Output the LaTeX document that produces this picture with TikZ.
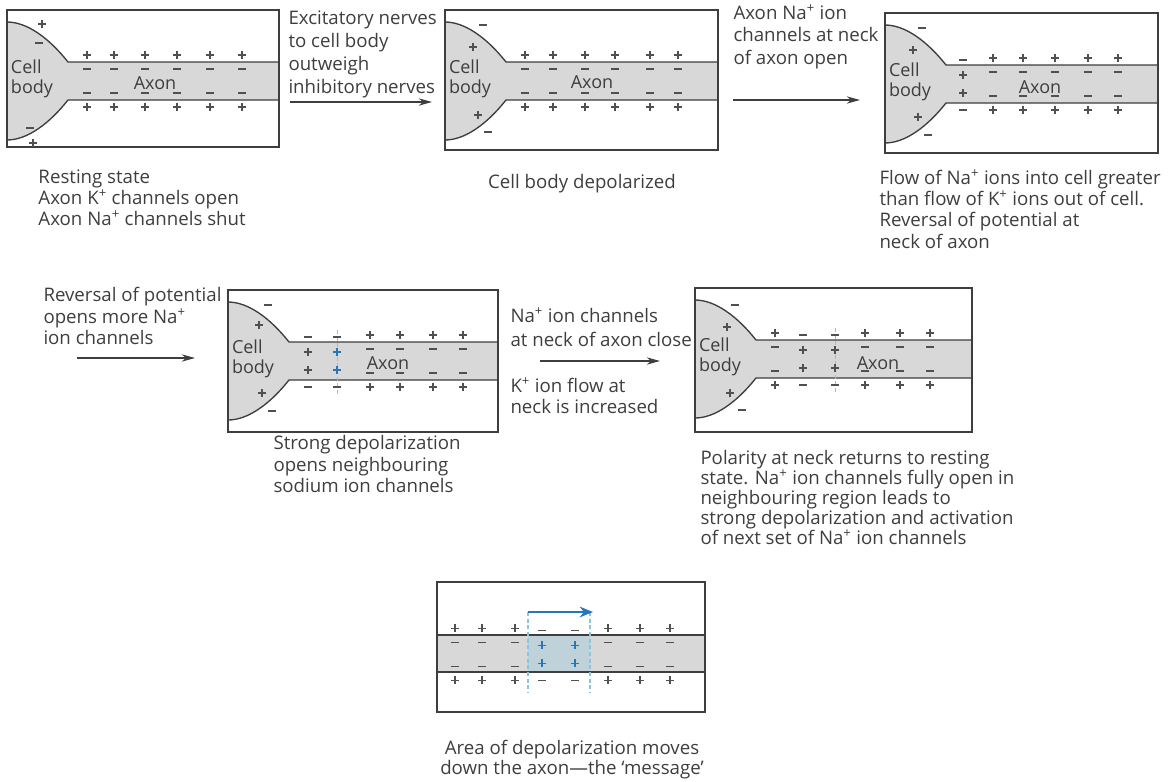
\documentclass[tikz,border=0pt]{standalone}
\usepackage{fontspec}
\setmainfont{Open Sans}
\usepackage{tikz}
\usetikzlibrary{arrows.meta}
\tikzset{every picture/.style={line width=0.75pt}}

\definecolor{ink}{RGB}{62,62,62}
\definecolor{chargeink}{RGB}{80,80,80}
\definecolor{axongrey}{RGB}{216,216,216}
\definecolor{signal}{RGB}{38,118,186}
\definecolor{signallight}{RGB}{135,198,222}

\tikzset{
  txt/.style={anchor=north west, align=left, inner sep=0pt, text=ink, font=\fontsize{14}{16}\selectfont},
  lbl/.style={align=left, inner sep=0pt, text=ink, font=\fontsize{13.5}{15}\selectfont},
  charge/.style={draw=chargeink, line width=0.9pt},
  membrane/.style={draw=ink, line width=1pt},
  frame/.style={draw=ink, line width=1.1pt},
  steparrow/.style={draw=ink, line width=0.9pt, -{Stealth[length=10pt,width=5.5pt]}},
}

% charge signs
\newcommand{\chplus}[3][chargeink]{\draw[charge, draw=#1, shift={(#2,#3)}] (-4,0) -- (4,0) (0,-4) -- (0,4);}
\newcommand{\chminus}[2]{\draw[charge, shift={(#1,#2)}] (-4,0) -- (4,0);}
% resting membrane: + outside, - inside
\newcommand{\restcol}[1]{\chplus{#1}{45}\chminus{#1}{59}\chminus{#1}{83}\chplus{#1}{97}}
% reversed membrane: - outside, + inside
\newcommand{\flipcol}[2][chargeink]{\chminus{#2}{47}\chplus[#1]{#2}{62}\chplus[#1]{#2}{80}\chminus{#2}{97}}
% frame with cell body and axon
\newcommand{\cellpanel}[2]{%
  \fill[axongrey] (0,12) .. controls (20,12) and (42,28) .. (61,52) -- (#1,52) -- (#1,90) -- (61,90) .. controls (42,114) and (20,130) .. (0,130) -- cycle;
  \draw[membrane] (0,12) .. controls (20,12) and (42,28) .. (61,52) -- (#1,52);
  \draw[membrane] (0,130) .. controls (20,130) and (42,114) .. (61,90) -- (#1,90);
  \draw[frame] (0,0) rectangle (#1,#2);}

\begin{document}
\begin{tikzpicture}[x=0.75pt,y=0.75pt,yscale=-1,xscale=1]
\useasboundingbox (0,0) rectangle (1175,782);

%Panel: resting state
\begin{scope}[shift={(7,10)}]
  \cellpanel{272}{137}
  \chplus{35}{14} \chminus{32}{33} \chminus{23}{118} \chplus{26}{133}
  \foreach \cx in {80,107,138,170,203,235} {\restcol{\cx}}
  \node[lbl] (bodyA) at (25,69) {Cell\\body};
  \node[lbl] (axonA) at (148,73) {Axon};
\end{scope}

%Panel: cell body depolarized
\begin{scope}[shift={(445,10)}]
  \cellpanel{273}{140}
  \chminus{38}{15} \chplus{28}{37} \chplus{33}{105} \chminus{43}{122}
  \foreach \cx in {80,108,140,170,205,233} {\restcol{\cx}}
  \node[lbl] (bodyB) at (25,69) {Cell\\body};
  \node[lbl] (axonB) at (147,72) {Axon};
\end{scope}

%Panel: reversal at neck
\begin{scope}[shift={(885,13)}]
  \cellpanel{273}{140}
  \chminus{37}{15} \chplus{28}{37} \chplus{33}{104} \chminus{43}{122}
  \flipcol{78}
  \foreach \cx in {108,138,170,203,233} {\restcol{\cx}}
  \node[lbl] (bodyC) at (25,69) {Cell\\body};
  \node[lbl] (axonC) at (155,74) {Axon};
\end{scope}

%Panel: strong depolarization
\begin{scope}[shift={(228,290)}]
  \cellpanel{270}{142}
  \chminus{40}{15} \chplus{31}{35} \chplus{34}{103} \chminus{44}{121}
  \draw[signallight, densely dashed, line width=0.6pt] (109,40) -- (109,104);
  \flipcol{80} \flipcol[signal]{109}
  \foreach \cx in {142,172,205,235} {\restcol{\cx}}
  \node[lbl] (bodyD) at (25,69) {Cell\\body};
  \node[lbl] (axonD) at (160,73) {Axon};
\end{scope}

%Panel: neck back to rest
\begin{scope}[shift={(695,288)}]
  \cellpanel{277}{144}
  \chminus{40}{17} \chplus{32}{39} \chplus{35}{105} \chminus{47}{122}
  \draw[signallight, densely dashed, line width=0.6pt] (140,40) -- (140,104);
  \flipcol{108} \flipcol{140}
  \foreach \cx in {80,170,205,235} {\restcol{\cx}}
  \node[lbl] (bodyE) at (25,69) {Cell\\body};
  \node[lbl] (axonE) at (183,75) {Axon};
\end{scope}

%Panel: moving impulse
\begin{scope}[shift={(437,582)}]
  \fill[axongrey] (0,53) rectangle (268,90);
  \fill[signallight, opacity=0.3] (91,53) rectangle (153,90);
  \draw[membrane] (0,53) -- (268,53) (0,90) -- (268,90);
  \draw[frame] (0,0) rectangle (268,130);
  \draw[signallight, densely dashed, line width=1pt] (91,30) -- (91,111) (153,30) -- (153,111);
  \begin{scope}[yshift=1]
    \foreach \cx in {18,45,78,171,203,233} {\restcol{\cx}}
    \flipcol[signal]{105} \flipcol[signal]{138}
  \end{scope}
  \coordinate (waveL) at (91,30);
  \coordinate (waveR) at (156,30);
  \draw[signal, line width=2.2pt, -{Stealth[length=10pt,width=8pt]}] (waveL) -- (waveR);
\end{scope}

% Text Node
\node[txt, font=\fontsize{14}{17.3}\selectfont] (exc) at (288,10) {Excitatory nerves\\to cell body\\outweigh\\inhibitory nerves};
\node[txt, font=\fontsize{14}{17}\selectfont] (neckopen) at (733,4) {Axon Na\textsuperscript{+} ion\\channels at neck\\of axon open};
\node[txt] (capA) at (38,169) {Resting state\\Axon K\textsuperscript{+} channels open\\Axon Na\textsuperscript{+} channels shut};
\node[txt, anchor=north] (capB) at (582,174) {Cell body depolarized};
\node[txt] (capC) at (879,169) {Flow of Na\textsuperscript{+} ions into cell greater\\than flow of K\textsuperscript{+} ions out of cell.\\Reversal of potential at\\neck of axon};
\node[txt] (revers) at (43,287) {Reversal of potential\\opens more Na\textsuperscript{+}\\ion channels};
\node[txt, font=\fontsize{14}{18.5}\selectfont] (neckclose) at (510,307) {Na\textsuperscript{+} ion channels\\at neck of axon close};
\node[txt] (kflow) at (510,377) {K\textsuperscript{+} ion flow at\\neck is increased};
\node[txt] (capD) at (273,435) {Strong depolarization\\opens neighbouring\\sodium ion channels};
\node[txt, font=\fontsize{14}{15}\selectfont] (capE) at (700,450) {Polarity at neck returns to resting\\state. Na\textsuperscript{+} ion channels fully open in\\neighbouring region leads to\\strong depolarization and activation\\of next set of Na\textsuperscript{+} ion channels};
\node[txt, align=center, anchor=north, font=\fontsize{14}{15}\selectfont] (capF) at (572,740) {Area of depolarization moves\\down the axon---the `message'};

%Step arrows
\coordinate (a1s) at (290,102); \coordinate (a1e) at (432,102);
\coordinate (a2s) at (733,100); \coordinate (a2e) at (860,100);
\coordinate (a3s) at (77,358);  \coordinate (a3e) at (195,358);
\coordinate (a4s) at (540,361); \coordinate (a4e) at (660,361);
\draw[steparrow] (a1s) -- (a1e);
\draw[steparrow] (a2s) -- (a2e);
\draw[steparrow] (a3s) -- (a3e);
\draw[steparrow] (a4s) -- (a4e);

\end{tikzpicture}
\end{document}
